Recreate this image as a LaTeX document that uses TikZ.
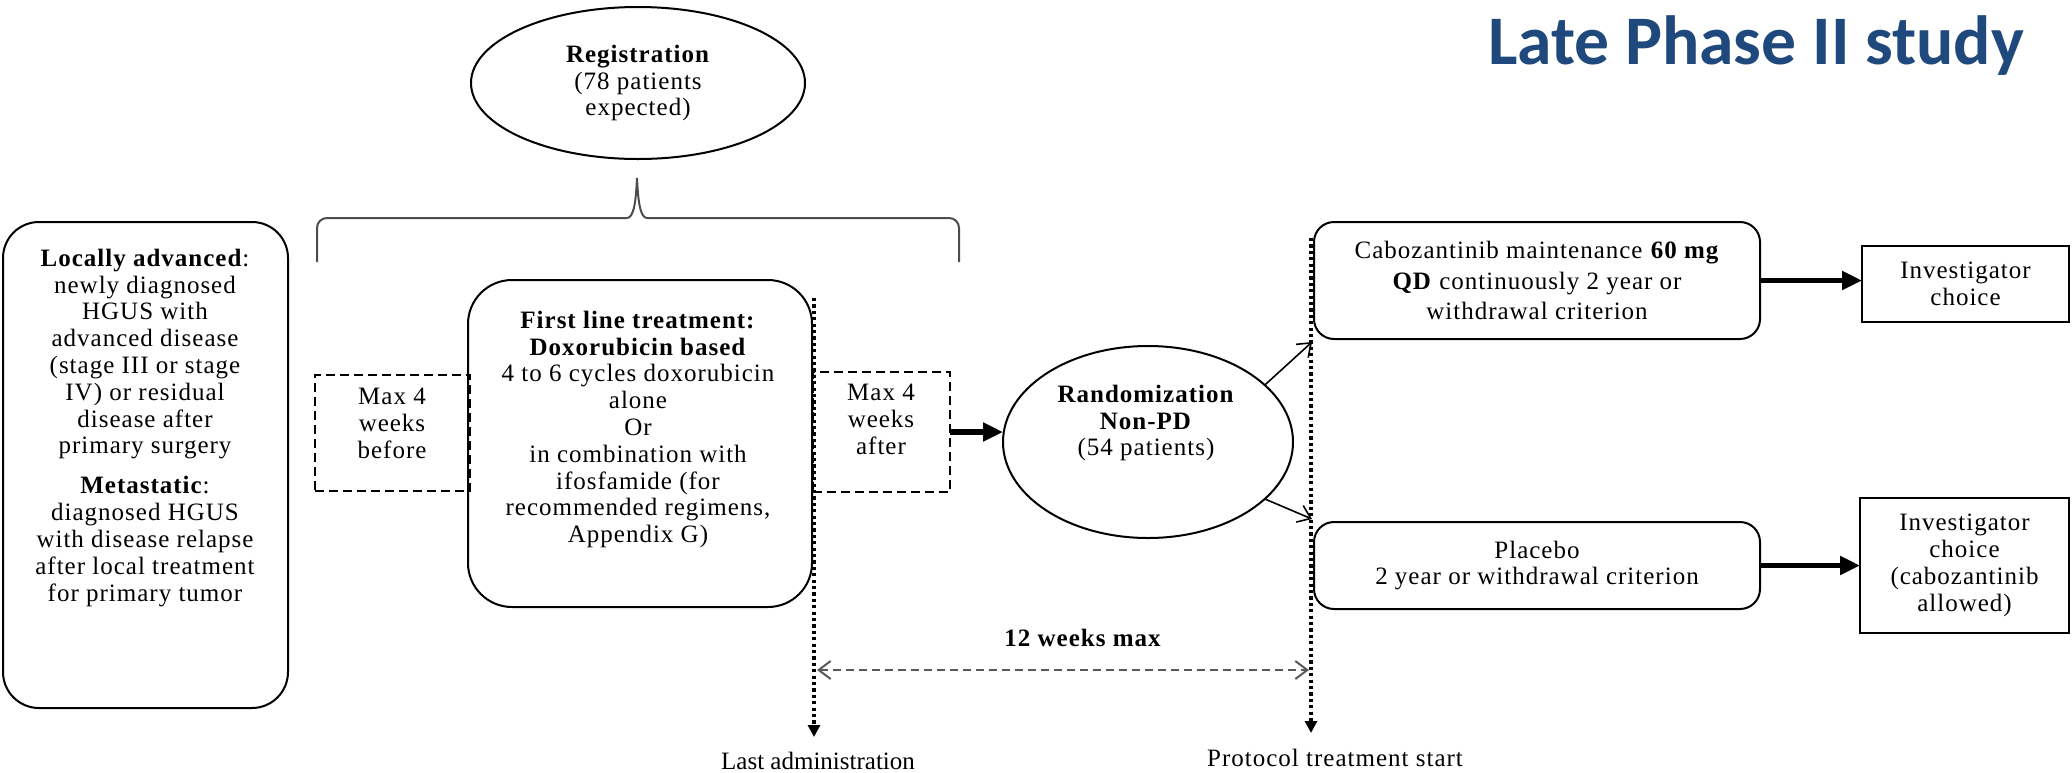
\documentclass[tikz,border=0pt]{standalone}
\usepackage{fontspec}
\setmainfont{Liberation Serif}[LetterSpace=4]
\newfontfamily\tightserif{Liberation Serif}
\newfontfamily\headfont{Carlito}
\usetikzlibrary{arrows.meta,shapes.geometric}
\definecolor{headblue}{HTML}{1F497D}

\tikzset{
  every node/.style={inner sep=0pt, outer sep=0pt},
  body/.style={font=\fontsize{12.5}{13.4}\selectfont, align=center},
  roundbox/.style={draw, line width=1pt, rounded corners=#1},
  roundbox/.default=10pt,
  plainbox/.style={draw, line width=1pt},
  dashbox/.style={draw, line width=0.9pt, dash pattern=on 4.5pt off 2.5pt},
  oval/.style={draw, ellipse, line width=1pt},
  bigarrow/.style={line width=2.8pt, -{Triangle[length=10pt,width=9pt]}},
  thinarrow/.style={line width=0.8pt, -{Straight Barb[length=6pt,width=9pt]}},
  timeline/.style={line width=1.8pt, dash pattern=on 1.6pt off 1.6pt,
                   -{Triangle[length=6pt,width=6pt]}},
  spanarrow/.style={line width=1pt, black!65, dash pattern=on 4pt off 2.5pt,
                    {Straight Barb[length=6pt,width=9pt]}-{Straight Barb[length=6pt,width=9pt]}},
  bracket/.style={line width=1pt, black!70},
}

\begin{document}
\begin{tikzpicture}[x=0.5pt, y=-0.5pt]
\useasboundingbox (0,0) rectangle (2072,772);

% heading
\node[anchor=base west, font=\headfont\bfseries\fontsize{34.8}{40}\selectfont, text=headblue]
  (head) at (1488,64) {Late Phase II study};

% registration and the brace below it
\node[oval, body, minimum width=167pt, minimum height=76pt] (reg) at (638,83)
  {\textbf{Registration}\\(78 patients\\expected)};
\draw[bracket] (317,262) -- (317,228) to[out=90,in=180] (327,218) -- (627,218)
  .. controls (634,218) and (636,200) .. (637,178)
  .. controls (638,200) and (640,218) .. (647,218) -- (949,218)
  to[out=0,in=90] (959,228) -- (959,262);

% eligible population
\node[roundbox=18pt, minimum width=142.5pt, minimum height=243pt] (pop) at (145.5,465) {};
\node[body, anchor=north] (poptext) at (145,249)
  {\textbf{Locally advanced}:\\newly diagnosed\\HGUS with\\advanced disease\\(stage III or stage\\IV) or residual\\disease after\\primary surgery\\[6.6pt]
   \textbf{Metastatic}:\\diagnosed HGUS\\with disease relapse\\after local treatment\\for primary tumor};

% windows around first line treatment
\node[dashbox, minimum width=77.5pt, minimum height=58pt] (before) at (392.5,433) {};
\node[body, anchor=north] (beforetext) at (392,388) {Max 4\\weeks\\before};

\node[roundbox=22pt, minimum width=172pt, minimum height=163.5pt] (first) at (640,443.5) {};
\node[body, anchor=north] (firsttext) at (638,311)
  {\textbf{First line treatment:}\\\textbf{Doxorubicin based}\\4 to 6 cycles doxorubicin\\alone\\Or\\in combination with\\ifosfamide (for\\recommended regimens,\\Appendix G)};

\node[dashbox, minimum width=68.5pt, minimum height=60pt] (after) at (881.5,432) {};
\node[body, anchor=north] (aftertext) at (881,384) {Max 4\\weeks\\after};

% randomization
\node[oval, minimum width=145pt, minimum height=96pt] (rand) at (1148,442) {};
\node[body, anchor=north] (randtext) at (1146,385)
  {\textbf{Randomization}\\\textbf{Non-PD}\\(54 patients)};

% arms
\node[roundbox=10pt, body, minimum width=223pt, minimum height=58.5pt] (cabo) at (1537,280.5)
  {Cabozantinib maintenance \textbf{60 mg}\\[2pt]\textbf{QD} continuously 2 year or\\[2pt]withdrawal criterion};
\node[roundbox=10pt, body, minimum width=223pt, minimum height=43.5pt] (plac) at (1537,565.5)
  {Placebo\\2 year or withdrawal criterion};

\node[plainbox, body, minimum width=103.5pt, minimum height=38pt] (inv1) at (1965.5,284)
  {Investigator\\choice};
\node[plainbox, body, minimum width=104.5pt, minimum height=67.5pt] (inv2) at (1964.5,565.5)
  {Investigator\\choice\\(cabozantinib\\allowed)};

% time markers
\coordinate (lastTop) at (814,298);
\coordinate (lastEnd) at (814,737);
\coordinate (startTop) at (1311,238);
\coordinate (startEnd) at (1311,733);
\coordinate (spanL) at (817,670);
\coordinate (spanR) at (1309,670);
\coordinate (toCabo) at (1312,342);
\coordinate (toPlac) at (1312,519);

\draw[timeline] (lastTop) -- (lastEnd);
\draw[timeline] (startTop) -- (startEnd);
\draw[spanarrow] (spanL) -- (spanR);

\node[body] (span) at (1083,638) {\textbf{12 weeks max}};
\node[font=\tightserif\fontsize{12.5}{13.4}\selectfont] (lastlbl) at (818,761) {Last administration};
\node[body] (startlbl) at (1335,758) {Protocol treatment start};

% connectors
\draw[bigarrow] (after.east) -- (after.east -| rand.west);
\draw[thinarrow] (rand.26) -- (toCabo);
\draw[thinarrow] (rand.-26) -- (toPlac);
\draw[bigarrow] (cabo.east) -- (cabo.east -| inv1.west);
\draw[bigarrow] (plac.east) -- (inv2.west);
\end{tikzpicture}
\end{document}
